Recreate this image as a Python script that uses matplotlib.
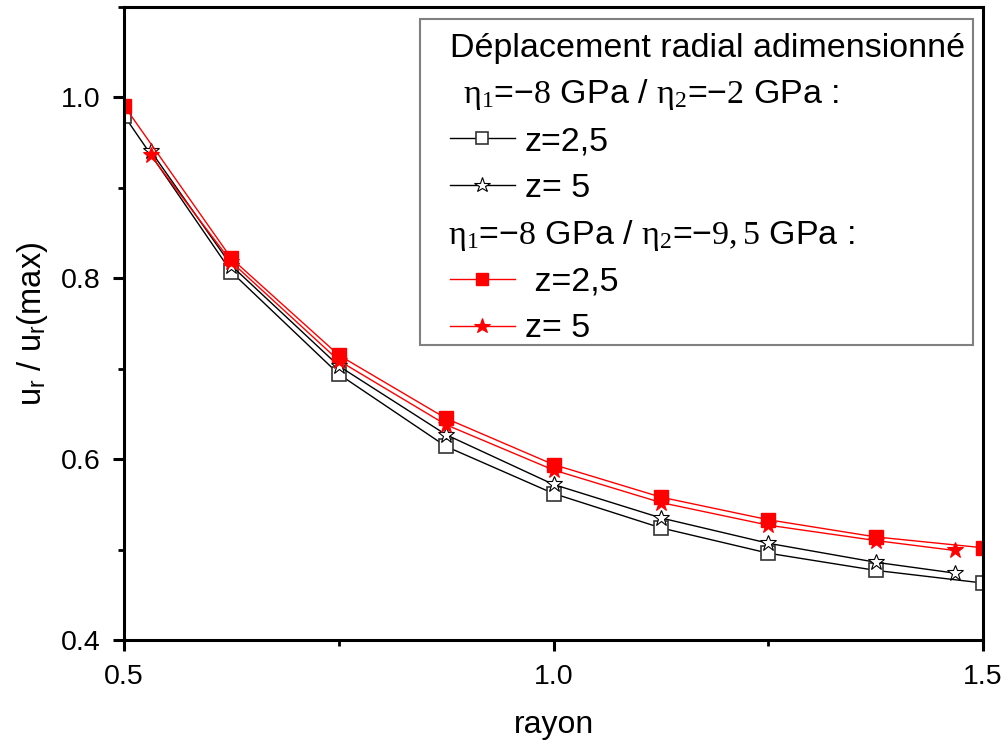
import matplotlib
matplotlib.use("Agg")
import matplotlib.pyplot as plt
from matplotlib.lines import Line2D
from matplotlib.patches import Rectangle
from matplotlib.ticker import MultipleLocator

plt.rcParams['font.family'] = ['Liberation Sans', 'DejaVu Sans']
plt.rcParams['mathtext.fontset'] = 'custom'
plt.rcParams['mathtext.rm'] = 'Liberation Serif'
plt.rcParams['mathtext.it'] = 'Liberation Serif:italic'
plt.rcParams['mathtext.bf'] = 'Liberation Serif:bold'

# ---- data ----
x_square = [0.5, 0.625, 0.75, 0.875, 1.0, 1.125, 1.25, 1.375, 1.5]
x_star = [0.531, 0.625, 0.75, 0.875, 1.0, 1.125, 1.25, 1.375, 1.467]

black_z25 = [0.980, 0.807, 0.694, 0.614, 0.562, 0.524, 0.496, 0.477, 0.463]
black_z5 = [0.941, 0.814, 0.703, 0.627, 0.572, 0.535, 0.507, 0.486, 0.474]
red_z25 = [0.991, 0.822, 0.715, 0.645, 0.594, 0.558, 0.533, 0.514, 0.502]
red_z5 = [0.936, 0.818, 0.709, 0.638, 0.588, 0.552, 0.527, 0.510, 0.499]

legend_title = "Déplacement radial adimensionné"
header1 = r"$\mathrm{\eta_1}$=−$\mathrm{8}$ GPa / $\mathrm{\eta_2}$=−$\mathrm{2}$ GPa :"
header2 = r"$\mathrm{\eta_1}$=−$\mathrm{8}$ GPa / $\mathrm{\eta_2}$=−$\mathrm{9,5}$ GPa :"
labels = ["z=2,5", "z= 5", " z=2,5", "z= 5"]

x_ticks = [0.5, 1.0, 1.5]
y_ticks = [0.4, 0.6, 0.8, 1.0]

W, H = 1006, 744
fig = plt.figure(figsize=(W / 100, H / 100), dpi=100)
ax = fig.add_axes([124 / W, 104 / H, 859 / W, 633 / H])

l1, = ax.plot(x_square, black_z25, color='black', lw=1.0, marker='s', ms=9.5,
              mfc='white', mec='#333333', mew=1.2, label=labels[0])
l2, = ax.plot(x_star, black_z5, color='black', lw=1.0, marker='*', ms=12,
              mfc='white', mec='black', mew=0.8, label=labels[1])
l3, = ax.plot(x_square, red_z25, color='red', lw=1.0, marker='s', ms=9.5,
              mfc='red', mec='red', mew=1.0, label=labels[2])
l4, = ax.plot(x_star, red_z5, color='red', lw=1.0, marker='*', ms=12,
              mfc='red', mec='red', mew=0.8, label=labels[3])

ax.set_xlim(0.5, 1.5)
ax.set_ylim(0.4, 1.1)
ax.set_xticks(x_ticks)
ax.set_yticks(y_ticks)
ax.set_xticklabels([f"{v:.1f}" for v in x_ticks])
ax.set_yticklabels([f"{v:.1f}" for v in y_ticks])
ax.xaxis.set_minor_locator(MultipleLocator(0.25))
ax.yaxis.set_minor_locator(MultipleLocator(0.1))
ax.tick_params(which='major', direction='out', length=8, width=2.2,
               labelsize=20.5, pad=9, top=False, right=False)
ax.tick_params(which='minor', direction='out', length=4.5, width=2.0,
               top=False, right=False)
for s in ax.spines.values():
    s.set_linewidth(2.2)

ax.set_xlabel("rayon", fontsize=23, labelpad=15)
ax.set_ylabel(r"u$_\mathregular{r}$ / u$_\mathregular{r}$(max)", fontsize=23.5, labelpad=8)

# legend frame (reference box)
fx0, fx1, fy0, fy1 = 420, 973, 19, 345
ax.add_patch(Rectangle(((fx0 - 124) / 859, (640 - fy1) / 633),
                       (fx1 - fx0) / 859, (fy1 - fy0) / 633,
                       transform=ax.transAxes, facecolor='white',
                       edgecolor='#808080', lw=1.5, zorder=5))

blank = Line2D([], [], linestyle='none', marker=None)
handles = [blank, l1, l2, blank, l3, l4]
leg_labels = [" ", labels[0], labels[1], " ", labels[2], labels[3]]
fs = 24.5
anchor = [(450 - 124) / 859, (640 - 28) / 633]
leg = ax.legend(handles, leg_labels, title=legend_title, loc='upper left',
                bbox_to_anchor=tuple(anchor), fontsize=fs, title_fontsize=fs,
                alignment='left', frameon=False, handlelength=1.9,
                handletextpad=0.3, labelspacing=0.465, borderpad=0,
                borderaxespad=0, markerscale=0.95)
leg.set_zorder(6)

fig.canvas.draw()
tb = leg.get_title().get_window_extent()
dx = 450 - tb.x0
dy = (H - 48) - (tb.y0 + tb.y1) / 2
anchor[0] += dx / 859
anchor[1] += dy / 633
leg.set_bbox_to_anchor(tuple(anchor), transform=ax.transAxes)
fig.canvas.draw()

inv = ax.transAxes.inverted()
texts = leg.get_texts()
tb = leg.get_title().get_window_extent()
for idx, htxt, indent in [(0, header1, 13), (3, header2, -2)]:
    bb = texts[idx].get_window_extent()
    ycen = (bb.y0 + bb.y1) / 2
    xa, ya = inv.transform((tb.x0 + indent, ycen))
    ax.text(xa, ya, htxt, transform=ax.transAxes, fontsize=fs,
            ha='left', va='center', zorder=10)

fig.savefig("out.png", dpi=100)
